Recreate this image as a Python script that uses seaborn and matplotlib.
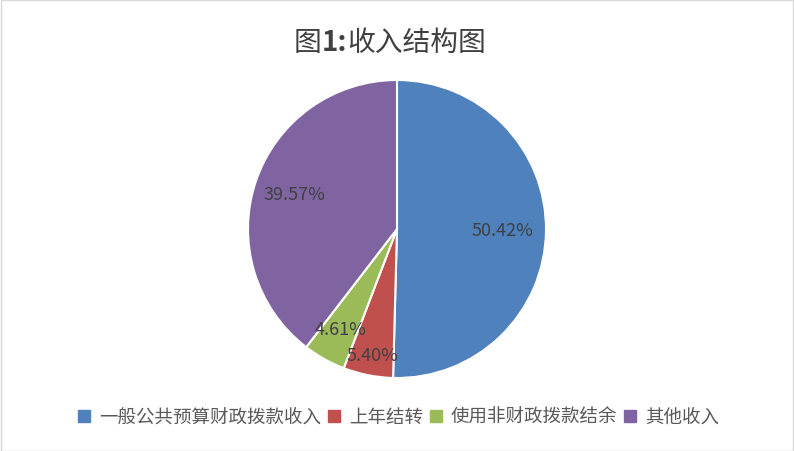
import numpy as np
import pandas as pd
import seaborn as sns
import matplotlib
matplotlib.use("Agg")
import matplotlib.pyplot as plt
from matplotlib.patches import Rectangle
from matplotlib.lines import Line2D

categories = ["一般公共预算财政拨款收入", "上年结转", "使用非财政拨款结余", "其他收入"]
values = [50.42, 5.40, 4.61, 39.57]
colors = ["#4F81BD", "#C0504D", "#9BBB59", "#8064A2"]
label_radius = [0.71, 0.86, 0.77, 0.73]
title_parts = [("图", "normal"), ("1:", "bold"), ("收入结构图", "normal")]

sns.set_theme(style="white")
plt.rcParams['font.family'] = ['Noto Sans CJK SC', 'DejaVu Sans']

df = pd.DataFrame({"cat": categories, "val": values})
pal = sns.color_palette(colors)

fig = plt.figure(figsize=(7.94, 4.52), dpi=100)
W, H = 794, 452
cx, cy, r = 397, 230, 149
ax = fig.add_axes([(cx - r) / W, (H - cy - r) / H, 2 * r / W, 2 * r / H])
wedges, _ = ax.pie(df["val"], colors=pal, startangle=90, counterclock=False,
                   wedgeprops=dict(edgecolor="white", linewidth=1.5), radius=1)
ax.set_xlim(-1, 1)
ax.set_ylim(-1, 1)
ax.set_aspect("equal")
ax.axis("off")

for w, v, rr in zip(wedges, df["val"], label_radius):
    ang = np.deg2rad((w.theta1 + w.theta2) / 2)
    ax.text(rr * np.cos(ang), rr * np.sin(ang), f"{v:.2f}%", ha="center", va="center",
            fontsize=13, color="#404040")

# title built from pieces (CJK regular, "1:" bold)
renderer = fig.canvas.get_renderer()
ty = (H - 43) / H
texts = []
for s, wgt in title_parts:
    t = fig.text(0, ty, s, ha="left", va="center", fontsize=20, color="#404040",
                 fontweight=wgt)
    texts.append(t)
widths = [t.get_window_extent(renderer).width for t in texts]
x = 390 - sum(widths) / 2
for t, wd in zip(texts, widths):
    t.set_x(x / W)
    x += wd

handles = [Line2D([0], [0], marker="s", linestyle="", markersize=8,
                  markerfacecolor=c, markeredgecolor=c) for c in pal]
fig.legend(handles, categories, loc="center", bbox_to_anchor=(0.5, (H - 418) / H),
           ncol=4, frameon=False, fontsize=13.3, labelcolor="#595959",
           handletextpad=0.3, columnspacing=0.2, handlelength=1.0)

fig.patches.append(Rectangle((0.5 / W, 0.5 / H), 1 - 1.5 / W, 1 - 1.5 / H,
                             transform=fig.transFigure, fill=False,
                             edgecolor="#D9D9D9", linewidth=1))
fig.savefig("out.png", dpi=100)
